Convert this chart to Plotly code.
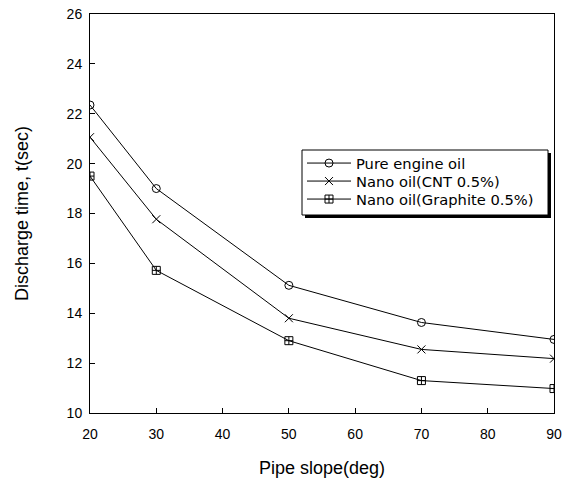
import plotly.graph_objects as go

slope = [20, 30, 50, 70, 90]
pure_oil = [22.35, 19.0, 15.12, 13.63, 12.95]
cnt_oil = [21.06, 17.77, 13.8, 12.55, 12.18]
graphite_oil = [19.5, 15.72, 12.9, 11.3, 10.98]

series = [
    ("Pure engine oil", pure_oil, "circle-open"),
    ("Nano oil(CNT 0.5%)", cnt_oil, "x-thin-open"),
    ("Nano oil(Graphite 0.5%)", graphite_oil, "square-cross-open"),
]
legend_ids = ["legend", "legend2", "legend3"]

fig = go.Figure()
for (name, vals, sym), lg in zip(series, legend_ids):
    fig.add_trace(go.Scatter(
        x=slope, y=vals, name=name, mode="lines+markers", legend=lg,
        line=dict(color="black", width=1),
        marker=dict(symbol=sym, size=8, color="black", line=dict(color="black", width=1)),
    ))

FAM = "Liberation Sans, Arial, sans-serif"
tickfont = dict(family=FAM, size=14, color="black")
axis_common = dict(showgrid=False, zeroline=False, showline=True, linecolor="black",
                   linewidth=1, mirror=True, ticks="inside", ticklen=5, tickcolor="black",
                   tickfont=tickfont, automargin=False, ticklabeloverflow="allow")

W, H = 563, 487
PL, PR, PT, PB = 90, 554, 14, 413   # plot area in page pixels
L, T = PL, PT
R, B = W - PR, H - PB
pw, ph = PR - PL, PB - PT

def px(x):
    return (x - PL) / pw

def py(y):
    return 1 - (y - PT) / ph

def legend_at(top):
    return dict(x=px(302), y=py(top), xanchor="left", yanchor="top",
                bgcolor="rgba(0,0,0,0)", borderwidth=0,
                font=dict(family="DejaVu Sans, sans-serif", size=14.7, color="black"),
                itemwidth=44)

fig.update_layout(
    width=W, height=H,
    margin=dict(l=L, r=R, t=T, b=B),
    plot_bgcolor="white", paper_bgcolor="white",
    font=dict(family=FAM, size=14, color="black"),
    xaxis=dict(range=[20, 90], tickvals=[20, 30, 40, 50, 60, 70, 80, 90],
               ticklabelstandoff=8,
               title=dict(text="Pipe slope(deg)", standoff=20, font=dict(family=FAM, size=18)),
               **axis_common),
    yaxis=dict(range=[10, 26], tickvals=list(range(10, 27, 2)),
               ticklabelstandoff=4,
               title=dict(text="Discharge time, t(sec)", standoff=33, font=dict(family=FAM, size=18)),
               **axis_common),
    legend=legend_at(147),
    legend2=legend_at(165),
    legend3=legend_at(183),
    showlegend=True,
)

# legend frame with drop shadow
fig.add_shape(type="rect", xref="paper", yref="paper",
              x0=px(305), x1=px(551), y0=py(218), y1=py(153),
              fillcolor="black", line=dict(width=0), layer="above")
fig.add_shape(type="rect", xref="paper", yref="paper",
              x0=px(302), x1=px(548), y0=py(215), y1=py(150),
              fillcolor="white", line=dict(color="black", width=1), layer="above")

fig.write_html("out.html", config={"displayModeBar": False},
               post_script="document.body.style.margin='0';")
